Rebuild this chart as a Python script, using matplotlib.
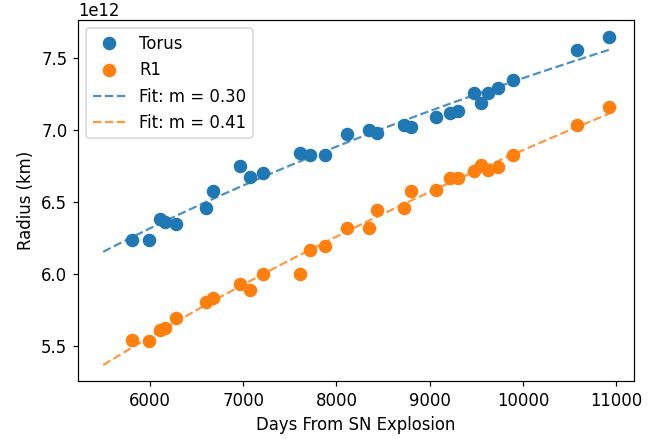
import numpy as np
import matplotlib
matplotlib.use("Agg")
import matplotlib.pyplot as plt

# Days from SN explosion (same epochs for both rings)
days = [5810, 5991, 6111, 6160, 6281, 6599, 6678, 6964, 7076, 7210,
        7607, 7719, 7882, 8117, 8345, 8440, 8721, 8797, 9064, 9213,
        9303, 9473, 9545, 9625, 9733, 9896, 10576, 10919]

# Radius in km (units of 1e12)
torus = [6.240, 6.240, 6.382, 6.365, 6.351, 6.458, 6.574, 6.747, 6.676, 6.699,
         6.840, 6.826, 6.826, 6.969, 7.002, 6.979, 7.037, 7.023, 7.092, 7.115,
         7.129, 7.254, 7.185, 7.254, 7.289, 7.347, 7.556, 7.648]
r1 = [5.542, 5.537, 5.613, 5.625, 5.699, 5.810, 5.838, 5.931, 5.893, 6.000,
      6.000, 6.167, 6.192, 6.319, 6.317, 6.447, 6.458, 6.574, 6.583, 6.667,
      6.667, 6.713, 6.759, 6.722, 6.745, 6.826, 7.035, 7.162]

t = np.array(days, dtype=float)
r_torus = np.array(torus) * 1e12
r_r1 = np.array(r1) * 1e12

# power law fit R = A * t^m (linear fit in log-log space)
m_t, b_t = np.polyfit(np.log(t), np.log(r_torus), 1)
m_r, b_r = np.polyfit(np.log(t), np.log(r_r1), 1)
t_fit = np.linspace(5500, t.max(), 100)

plt.rcParams["font.size"] = 11

dpi = 108
fig, ax = plt.subplots(figsize=(655 / dpi, 439 / dpi), dpi=dpi)
fig.subplots_adjust(left=0.119, right=0.968, top=0.954, bottom=0.131)

ax.plot(t, r_torus, "o", color="C0", markersize=8, label="Torus")
ax.plot(t, r_r1, "o", color="C1", markersize=8, label="R1")
ax.plot(t_fit, np.exp(b_t) * t_fit**m_t, "--", color="C0", alpha=0.8,
        label="Fit: m = %.2f" % m_t)
ax.plot(t_fit, np.exp(b_r) * t_fit**m_r, "--", color="C1", alpha=0.8,
        label="Fit: m = %.2f" % m_r)

ax.set_xlabel("Days From SN Explosion")
ax.set_ylabel("Radius (km)")
ax.legend(loc="upper left")

fig.savefig("out.png", dpi=dpi)
